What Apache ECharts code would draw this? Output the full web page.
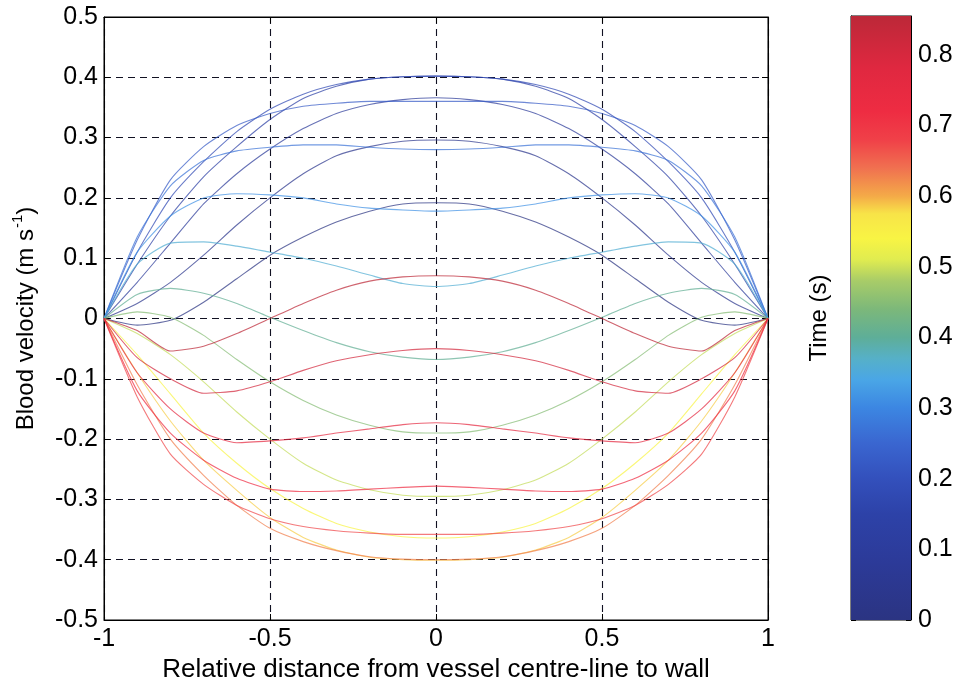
<!DOCTYPE html>
<html>
<head>
<meta charset="utf-8">
<title>Womersley velocity profiles</title>
<script src="https://cdn.jsdelivr.net/npm/echarts@6/dist/echarts.min.js"></script>
<style>
  html, body { margin: 0; padding: 0; background: #ffffff; }
  #chart { width: 958px; height: 688px; }
</style>
</head>
<body>
<div id="chart"></div>
<script>
// Relative radial position across the vessel (centre-line = 0, wall = ±1)
const radialPositions = [-1, -0.9, -0.8, -0.7, -0.6, -0.5, -0.4, -0.3, -0.2, -0.1, 0,
                         0.1, 0.2, 0.3, 0.4, 0.5, 0.6, 0.7, 0.8, 0.9, 1];

// Instant of the cardiac cycle at which each profile is taken (s)
const profileTimes = [0, 0.045, 0.09, 0.135, 0.18, 0.225, 0.27, 0.315, 0.36, 0.405,
                      0.45, 0.495, 0.54, 0.585, 0.63, 0.675, 0.72, 0.765, 0.81, 0.855];

// Blood velocity (m/s) at each radial position, one array per instant
const vel_t000 = [0, -0.011, -0.003, 0.027, 0.066, 0.105, 0.135, 0.16, 0.178, 0.19, 0.192, 0.19, 0.178, 0.16, 0.135, 0.105, 0.066, 0.027, -0.003, -0.011, 0];
const vel_t045 = [0, 0.025, 0.06, 0.105, 0.155, 0.2, 0.24, 0.27, 0.285, 0.294, 0.296, 0.294, 0.285, 0.27, 0.24, 0.2, 0.155, 0.105, 0.06, 0.025, 0];
const vel_t090 = [0, 0.06, 0.125, 0.19, 0.24, 0.281, 0.315, 0.34, 0.355, 0.363, 0.366, 0.363, 0.355, 0.34, 0.315, 0.281, 0.24, 0.19, 0.125, 0.06, 0];
const vel_t135 = [0, 0.09, 0.17, 0.235, 0.285, 0.33, 0.365, 0.385, 0.397, 0.401, 0.402, 0.401, 0.397, 0.385, 0.365, 0.33, 0.285, 0.235, 0.17, 0.09, 0];
const vel_t180 = [0, 0.11, 0.2, 0.26, 0.31, 0.347, 0.372, 0.388, 0.397, 0.401, 0.402, 0.401, 0.397, 0.388, 0.372, 0.347, 0.31, 0.26, 0.2, 0.11, 0];
const vel_t225 = [0, 0.13, 0.23, 0.285, 0.32, 0.34, 0.352, 0.357, 0.36, 0.36, 0.36, 0.36, 0.36, 0.357, 0.352, 0.34, 0.32, 0.285, 0.23, 0.13, 0];
const vel_t270 = [0, 0.135, 0.22, 0.262, 0.278, 0.284, 0.288, 0.288, 0.284, 0.281, 0.28, 0.281, 0.284, 0.288, 0.288, 0.284, 0.278, 0.262, 0.22, 0.135, 0];
const vel_t315 = [0, 0.11, 0.17, 0.2, 0.207, 0.205, 0.2, 0.19, 0.183, 0.18, 0.178, 0.18, 0.183, 0.19, 0.2, 0.205, 0.207, 0.2, 0.17, 0.11, 0];
const vel_t360 = [0, 0.09, 0.125, 0.127, 0.12, 0.11, 0.1, 0.087, 0.072, 0.058, 0.053, 0.058, 0.072, 0.087, 0.1, 0.11, 0.12, 0.127, 0.125, 0.09, 0];
const vel_t405 = [0, 0.04, 0.05, 0.042, 0.025, 0.002, -0.02, -0.04, -0.055, -0.064, -0.068, -0.064, -0.055, -0.04, -0.02, 0.002, 0.025, 0.042, 0.05, 0.04, 0];
const vel_t450 = [0, 0.011, 0.002, -0.028, -0.068, -0.105, -0.136, -0.16, -0.177, -0.188, -0.19, -0.188, -0.177, -0.16, -0.136, -0.105, -0.068, -0.028, 0.002, 0.011, 0];
const vel_t495 = [0, -0.025, -0.06, -0.105, -0.155, -0.2, -0.24, -0.268, -0.284, -0.293, -0.295, -0.293, -0.284, -0.268, -0.24, -0.2, -0.155, -0.105, -0.06, -0.025, 0];
const vel_t540 = [0, -0.06, -0.125, -0.19, -0.24, -0.282, -0.315, -0.34, -0.354, -0.362, -0.364, -0.362, -0.354, -0.34, -0.315, -0.282, -0.24, -0.19, -0.125, -0.06, 0];
const vel_t585 = [0, -0.09, -0.17, -0.235, -0.285, -0.33, -0.363, -0.384, -0.396, -0.4, -0.401, -0.4, -0.396, -0.384, -0.363, -0.33, -0.285, -0.235, -0.17, -0.09, 0];
const vel_t630 = [0, -0.11, -0.2, -0.26, -0.31, -0.348, -0.37, -0.385, -0.395, -0.399, -0.4, -0.399, -0.395, -0.385, -0.37, -0.348, -0.31, -0.26, -0.2, -0.11, 0];
const vel_t675 = [0, -0.13, -0.225, -0.275, -0.31, -0.332, -0.345, -0.352, -0.356, -0.358, -0.358, -0.358, -0.356, -0.352, -0.345, -0.332, -0.31, -0.275, -0.225, -0.13, 0];
const vel_t720 = [0, -0.12, -0.19, -0.235, -0.265, -0.283, -0.287, -0.286, -0.283, -0.28, -0.278, -0.28, -0.283, -0.286, -0.287, -0.283, -0.265, -0.235, -0.19, -0.12, 0];
const vel_t765 = [0, -0.09, -0.15, -0.19, -0.206, -0.203, -0.198, -0.19, -0.183, -0.176, -0.173, -0.176, -0.183, -0.19, -0.198, -0.203, -0.206, -0.19, -0.15, -0.09, 0];
const vel_t810 = [0, -0.065, -0.1, -0.124, -0.12, -0.105, -0.086, -0.07, -0.06, -0.053, -0.05, -0.053, -0.06, -0.07, -0.086, -0.105, -0.12, -0.124, -0.1, -0.065, 0];
const vel_t855 = [0, -0.02, -0.054, -0.046, -0.025, 0, 0.025, 0.047, 0.062, 0.069, 0.071, 0.069, 0.062, 0.047, 0.025, 0, -0.025, -0.046, -0.054, -0.02, 0];

const velocityProfiles = [vel_t000, vel_t045, vel_t090, vel_t135, vel_t180, vel_t225, vel_t270,
  vel_t315, vel_t360, vel_t405, vel_t450, vel_t495, vel_t540, vel_t585, vel_t630, vel_t675,
  vel_t720, vel_t765, vel_t810, vel_t855];

// Axis ticks
const distanceTicks = [-1, -0.5, 0, 0.5, 1];
const velocityTicks = [-0.5, -0.4, -0.3, -0.2, -0.1, 0, 0.1, 0.2, 0.3, 0.4, 0.5];
const timeTicks = [0, 0.1, 0.2, 0.3, 0.4, 0.5, 0.6, 0.7, 0.8];
const timeMax = 0.855;

// Jet-like colour scale for time (s)
const timeColourStops = [
  [0.00, '#2b3482'], [0.08, '#2c3a98'], [0.15, '#2d42a8'], [0.20, '#3350bc'],
  [0.25, '#3a66d0'], [0.30, '#3c86e2'], [0.34, '#4aa6e6'], [0.37, '#56b0c8'],
  [0.40, '#5eae98'], [0.44, '#7cb87a'], [0.48, '#a8cc68'], [0.51, '#e0ec50'],
  [0.54, '#f8f444'], [0.575, '#f8e448'], [0.60, '#f4aa48'], [0.64, '#f07050'],
  [0.68, '#f04048'], [0.72, '#ee2c42'], [0.78, '#e02840'], [0.855, '#bc2838']
];

function hexToRgb(h) {
  return [parseInt(h.slice(1, 3), 16), parseInt(h.slice(3, 5), 16), parseInt(h.slice(5, 7), 16)];
}
function colourAt(t) {
  const s = timeColourStops;
  if (t <= s[0][0]) return s[0][1];
  for (let i = 1; i < s.length; i++) {
    if (t <= s[i][0]) {
      const f = (t - s[i - 1][0]) / (s[i][0] - s[i - 1][0]);
      const a = hexToRgb(s[i - 1][1]), b = hexToRgb(s[i][1]);
      const c = a.map((v, k) => Math.round(v + (b[k] - v) * f));
      return 'rgb(' + c.join(',') + ')';
    }
  }
  return s[s.length - 1][1];
}

const FONT = "'Liberation Sans', Arial, Helvetica, sans-serif";
const FS = 25;      // horizontal text
const FS_ROT = 24;  // rotated axis titles

const chart = echarts.init(document.getElementById('chart'), null, { renderer: 'canvas' });

const profileSeries = velocityProfiles.map((vals, i) => ({
  type: 'line',
  name: profileTimes[i].toFixed(3) + ' s',
  xAxisIndex: 0,
  yAxisIndex: 0,
  data: radialPositions.map((x, j) => [x, vals[j]]),
  showSymbol: false,
  smooth: 0.2,
  silent: true,
  lineStyle: { color: colourAt(profileTimes[i]), width: 1.1, opacity: 0.72 },
  z: 3
}));

// colour bar fill
const barStops = timeColourStops.map(([t, c]) => ({ offset: 1 - t / timeMax, color: c })).reverse();
const colourBarSeries = {
  type: 'bar',
  xAxisIndex: 2,
  yAxisIndex: 2,
  data: [timeMax],
  barWidth: '100%',
  silent: true,
  itemStyle: { color: new echarts.graphic.LinearGradient(0, 0, 0, 1, barStops) },
  z: 1
};

const dashGrid = { show: true, lineStyle: { color: '#111122', type: [7, 5], width: 1.1 } };
const blackLine = { show: true, onZero: false, lineStyle: { color: '#000', width: 1 } };
const tickIn = { show: true, inside: true, length: 6, lineStyle: { color: '#000' } };
const labelStyle = { color: '#000', fontSize: FS, fontFamily: FONT };

chart.setOption({
  animation: false,
  backgroundColor: '#ffffff',
  grid: [
    { left: 104, right: 190, top: 17, bottom: 68, show: true, borderColor: '#000', borderWidth: 1 },
    { left: 851, right: 47, top: 16, bottom: 68, show: true, borderColor: '#000', borderWidth: 1 }
  ],
  xAxis: [
    {
      gridIndex: 0, type: 'value', min: -1, max: 1, interval: 0.5, position: 'bottom',
      axisLine: blackLine, axisTick: tickIn, splitLine: dashGrid,
      axisLabel: Object.assign({ margin: 7, customValues: distanceTicks }, labelStyle),
      name: 'Relative distance from vessel centre-line to wall',
      nameLocation: 'middle', nameGap: 36,
      nameTextStyle: { color: '#000', fontSize: 26, fontFamily: FONT }
    },
    {
      gridIndex: 0, type: 'value', min: -1, max: 1, interval: 0.5, position: 'top',
      axisLine: blackLine, axisTick: tickIn, axisLabel: { show: false }, splitLine: { show: false }
    },
    {
      gridIndex: 1, type: 'category', data: [''], show: false
    }
  ],
  yAxis: [
    {
      gridIndex: 0, type: 'value', min: -0.5, max: 0.5, interval: 0.1, position: 'left',
      axisLine: blackLine, axisTick: tickIn, splitLine: dashGrid,
      axisLabel: Object.assign({ margin: 6, customValues: velocityTicks }, labelStyle),
      name: '{t|Blood velocity (m s}{sup|-1}{t|)}',
      nameLocation: 'middle', nameGap: 66, nameRotate: 90,
      nameTextStyle: {
        color: '#000', fontSize: FS_ROT, fontFamily: FONT,
        rich: {
          t: { color: '#000', fontSize: FS_ROT, fontFamily: FONT, lineHeight: 30, verticalAlign: 'bottom' },
          sup: { color: '#000', fontSize: 15, fontFamily: FONT, lineHeight: 30, verticalAlign: 'top', padding: [2, 0, 0, 1] }
        }
      }
    },
    {
      gridIndex: 0, type: 'value', min: -0.5, max: 0.5, interval: 0.1, position: 'right',
      axisLine: blackLine, axisTick: tickIn, axisLabel: { show: false }, splitLine: { show: false }
    },
    {
      gridIndex: 1, type: 'value', min: 0, max: timeMax, position: 'right',
      axisLine: blackLine,
      axisTick: { show: true, inside: true, length: 5, customValues: timeTicks, lineStyle: { color: '#000' } },
      axisLabel: Object.assign({ margin: 7, customValues: timeTicks }, labelStyle),
      splitLine: { show: false }
    },
    {
      gridIndex: 1, type: 'value', min: 0, max: timeMax, position: 'left',
      axisLine: blackLine,
      axisTick: { show: true, inside: true, length: 5, customValues: timeTicks, lineStyle: { color: '#000' } },
      axisLabel: { show: false }, splitLine: { show: false },
      name: 'Time (s)', nameLocation: 'middle', nameGap: 20, nameRotate: 90,
      nameTextStyle: { color: '#000', fontSize: FS_ROT, fontFamily: FONT }
    }
  ],
  series: profileSeries.concat([colourBarSeries])
});
</script>
</body>
</html>
